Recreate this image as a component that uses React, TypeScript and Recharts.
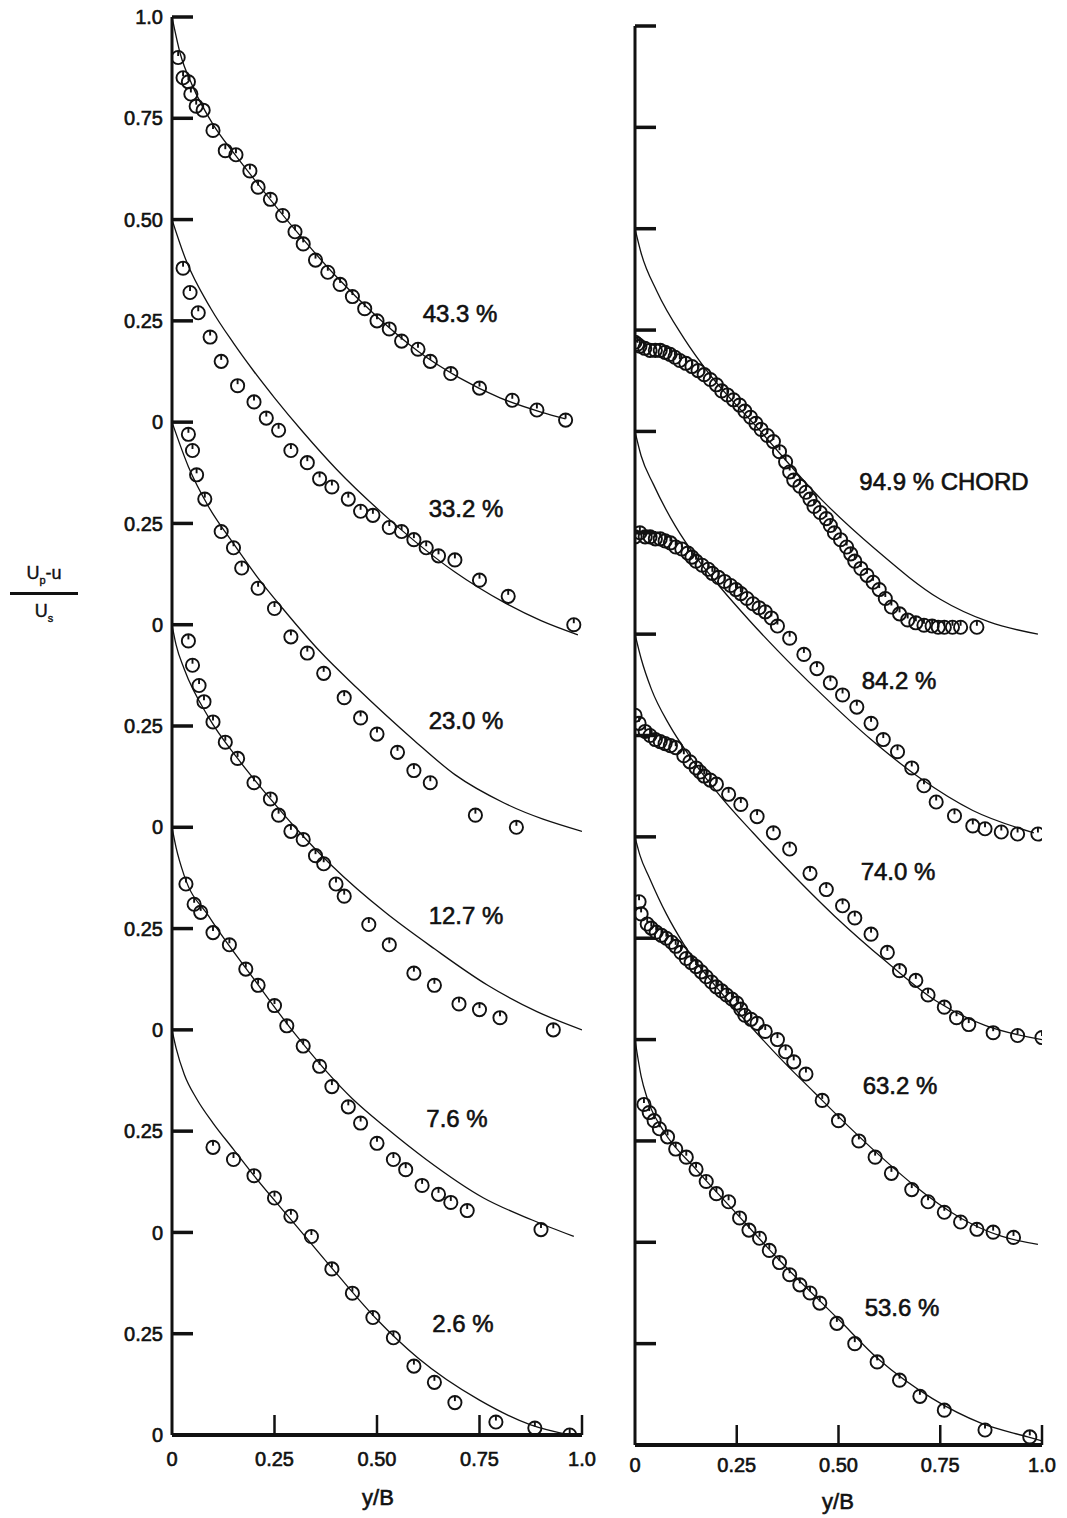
import React from "react";
import { ComposedChart, Line, Scatter, XAxis, YAxis } from "recharts";

const FONT = '"Liberation Sans", Arial, Helvetica, sans-serif';

// axis ticks
const xTicks = [0, 0.25, 0.5, 0.75, 1.0];
const xTickLabels = ["0", "0.25", "0.50", "0.75", "1.0"];
const yTicks = [0, 0.25, 0.5, 0.75, 1.0, 1.25, 1.5, 1.75, 2.0, 2.25, 2.5, 2.75, 3.0, 3.25, 3.5];
const yTickLabels = ["0", "0.25", "0", "0.25", "0", "0.25", "0", "0.25", "0", "0.25", "0", "0.25", "0.50", "0.75", "1.0"];

// left panel: stations (% chord), baseline of each profile on the stacked scale
const leftLabels = ["43.3 %", "33.2 %", "23.0 %", "12.7 %", "7.6 %", "2.6 %"];
const leftOffsets = [2.5, 2.0, 1.5, 1.0, 0.5, 0];

// right panel
const rightLabels = ["94.9 % CHORD", "84.2 %", "74.0 %", "63.2 %", "53.6 %"];
const rightOffsets = [2.0, 1.5, 1.0, 0.5, 0];

type P = [number, number];

// theory curves [y/B, (Up-u)/Us]
const line433: P[] = [[0, 1.0], [0.02, 0.91], [0.05, 0.83], [0.1, 0.735], [0.15, 0.665], [0.2, 0.6], [0.3, 0.475], [0.4, 0.36], [0.5, 0.26], [0.6, 0.175], [0.7, 0.11], [0.8, 0.06], [0.9, 0.025], [0.96, 0.008]];
const line332: P[] = [[0, 1.0], [0.034, 0.9], [0.095, 0.78], [0.15, 0.695], [0.2, 0.625], [0.25, 0.56], [0.32, 0.475], [0.4, 0.385], [0.53, 0.26], [0.69, 0.13], [0.81, 0.055], [0.9, 0.01], [0.99, -0.025]];
const line230: P[] = [[0, 1.0], [0.04, 0.89], [0.09, 0.79], [0.15, 0.7], [0.21, 0.615], [0.27, 0.54], [0.36, 0.435], [0.45, 0.345], [0.59, 0.215], [0.69, 0.13], [0.81, 0.06], [1.0, -0.01]];
const line127: P[] = [[0, 1.0], [0.01, 0.95], [0.03, 0.89], [0.09, 0.77], [0.16, 0.67], [0.24, 0.57], [0.3, 0.5], [0.39, 0.405], [0.52, 0.29], [0.64, 0.2], [0.77, 0.11], [0.89, 0.045], [1.0, 0.0]];
const line76: P[] = [[0, 1.0], [0.01, 0.95], [0.03, 0.88], [0.09, 0.78], [0.2, 0.625], [0.3, 0.49], [0.44, 0.33], [0.52, 0.26], [0.62, 0.18], [0.76, 0.085], [0.88, 0.03], [0.98, -0.01]];
const line26: P[] = [[0, 1.0], [0.01, 0.955], [0.03, 0.89], [0.06, 0.83], [0.1, 0.77], [0.15, 0.705], [0.2, 0.64], [0.3, 0.52], [0.4, 0.4], [0.5, 0.285], [0.6, 0.19], [0.75, 0.086], [0.875, 0.025], [0.97, 0.0]];

const line949: P[] = [[0, 1.0], [0.015, 0.94], [0.054, 0.845], [0.12, 0.73], [0.18, 0.645], [0.3, 0.51], [0.46, 0.33], [0.59, 0.21], [0.75, 0.086], [0.87, 0.03], [0.99, 0.0]];
const line842: P[] = [[0, 1.0], [0.015, 0.94], [0.045, 0.87], [0.1, 0.765], [0.15, 0.69], [0.21, 0.615], [0.28, 0.535], [0.35, 0.46], [0.45, 0.36], [0.58, 0.24], [0.7, 0.145], [0.83, 0.065], [0.98, 0.01]];
const line740: P[] = [[0, 1.0], [0.015, 0.94], [0.04, 0.865], [0.085, 0.775], [0.13, 0.705], [0.21, 0.6], [0.29, 0.51], [0.37, 0.425], [0.49, 0.305], [0.62, 0.19], [0.74, 0.095], [0.86, 0.035], [1.0, 0.0]];
const line632: P[] = [[0, 1.0], [0.012, 0.955], [0.035, 0.9], [0.077, 0.81], [0.12, 0.735], [0.225, 0.6], [0.3, 0.515], [0.37, 0.44], [0.44, 0.37], [0.5, 0.31], [0.6, 0.215], [0.68, 0.145], [0.8, 0.06], [0.9, 0.015], [0.99, -0.005]];
const line536: P[] = [[0, 1.0], [0.015, 0.91], [0.03, 0.855], [0.07, 0.775], [0.15, 0.68], [0.25, 0.57], [0.36, 0.45], [0.5, 0.31], [0.6, 0.21], [0.73, 0.115], [0.85, 0.054], [0.965, 0.02], [1.0, 0.01]];

// measured points
const pts433: P[] = [[0.015, 0.9], [0.027, 0.85], [0.04, 0.84], [0.046, 0.81], [0.059, 0.78], [0.076, 0.77], [0.1, 0.72], [0.13, 0.67], [0.156, 0.66], [0.19, 0.62], [0.21, 0.58], [0.24, 0.55], [0.27, 0.51], [0.3, 0.47], [0.32, 0.44], [0.35, 0.4], [0.38, 0.37], [0.41, 0.34], [0.44, 0.31], [0.47, 0.28], [0.5, 0.25], [0.53, 0.23], [0.56, 0.2], [0.6, 0.18], [0.63, 0.15], [0.68, 0.12], [0.75, 0.084], [0.83, 0.054], [0.89, 0.03], [0.96, 0.005]];
const pts332: P[] = [[0.027, 0.88], [0.044, 0.82], [0.064, 0.77], [0.093, 0.71], [0.12, 0.65], [0.16, 0.59], [0.2, 0.55], [0.23, 0.51], [0.26, 0.48], [0.29, 0.43], [0.33, 0.4], [0.36, 0.36], [0.39, 0.34], [0.43, 0.31], [0.46, 0.28], [0.49, 0.27], [0.53, 0.24], [0.56, 0.23], [0.59, 0.21], [0.62, 0.19], [0.65, 0.17], [0.69, 0.16], [0.75, 0.11], [0.82, 0.07], [0.98, 0.0]];
const pts230: P[] = [[0.04, 0.97], [0.05, 0.93], [0.06, 0.87], [0.08, 0.81], [0.12, 0.73], [0.15, 0.69], [0.17, 0.64], [0.21, 0.59], [0.25, 0.54], [0.29, 0.47], [0.33, 0.43], [0.37, 0.38], [0.42, 0.32], [0.46, 0.27], [0.5, 0.23], [0.55, 0.185], [0.59, 0.14], [0.63, 0.11], [0.74, 0.03], [0.84, 0.0]];
const pts127: P[] = [[0.04, 0.96], [0.05, 0.9], [0.066, 0.85], [0.078, 0.81], [0.1, 0.76], [0.13, 0.71], [0.16, 0.67], [0.2, 0.61], [0.24, 0.57], [0.26, 0.53], [0.29, 0.49], [0.32, 0.47], [0.35, 0.43], [0.37, 0.41], [0.4, 0.36], [0.42, 0.33], [0.48, 0.26], [0.53, 0.21], [0.59, 0.14], [0.64, 0.11], [0.7, 0.064], [0.75, 0.05], [0.8, 0.03], [0.93, 0.0]];
const pts76: P[] = [[0.034, 0.86], [0.054, 0.81], [0.07, 0.79], [0.1, 0.74], [0.14, 0.71], [0.18, 0.65], [0.21, 0.61], [0.25, 0.56], [0.28, 0.51], [0.32, 0.46], [0.36, 0.41], [0.39, 0.36], [0.43, 0.31], [0.46, 0.27], [0.5, 0.22], [0.54, 0.18], [0.57, 0.155], [0.61, 0.116], [0.65, 0.094], [0.68, 0.074], [0.72, 0.054], [0.9, 0.007]];
const pts26: P[] = [[0.1, 0.71], [0.15, 0.68], [0.2, 0.64], [0.25, 0.585], [0.29, 0.54], [0.34, 0.49], [0.39, 0.41], [0.44, 0.35], [0.49, 0.29], [0.54, 0.24], [0.59, 0.17], [0.64, 0.13], [0.69, 0.08], [0.79, 0.032], [0.885, 0.017], [0.97, 0.0]];

const pts949: P[] = [[0.0, 0.72], [0.006, 0.715], [0.012, 0.71], [0.024, 0.705], [0.037, 0.7], [0.05, 0.7], [0.062, 0.7], [0.074, 0.695], [0.086, 0.69], [0.098, 0.683], [0.11, 0.675], [0.125, 0.668], [0.14, 0.66], [0.155, 0.65], [0.17, 0.64], [0.185, 0.628], [0.2, 0.615], [0.213, 0.6], [0.227, 0.59], [0.242, 0.578], [0.257, 0.565], [0.27, 0.55], [0.284, 0.535], [0.297, 0.52], [0.31, 0.505], [0.325, 0.49], [0.34, 0.475], [0.355, 0.45], [0.37, 0.425], [0.38, 0.4], [0.39, 0.38], [0.405, 0.365], [0.42, 0.35], [0.43, 0.333], [0.44, 0.315], [0.455, 0.3], [0.47, 0.285], [0.48, 0.268], [0.49, 0.25], [0.505, 0.233], [0.52, 0.215], [0.53, 0.198], [0.54, 0.18], [0.555, 0.162], [0.57, 0.145], [0.585, 0.128], [0.6, 0.11], [0.615, 0.088], [0.63, 0.067], [0.65, 0.05], [0.67, 0.035], [0.69, 0.028], [0.71, 0.022], [0.73, 0.02], [0.745, 0.017], [0.76, 0.017], [0.78, 0.017], [0.8, 0.017], [0.84, 0.017]];
const pts842: P[] = [[0.0, 0.74], [0.012, 0.75], [0.025, 0.74], [0.037, 0.74], [0.05, 0.735], [0.062, 0.735], [0.074, 0.73], [0.087, 0.725], [0.1, 0.715], [0.115, 0.71], [0.13, 0.7], [0.14, 0.69], [0.15, 0.68], [0.165, 0.67], [0.18, 0.66], [0.19, 0.65], [0.205, 0.64], [0.22, 0.63], [0.235, 0.62], [0.248, 0.61], [0.26, 0.6], [0.275, 0.588], [0.29, 0.575], [0.305, 0.565], [0.32, 0.555], [0.335, 0.54], [0.35, 0.52], [0.38, 0.49], [0.415, 0.45], [0.447, 0.415], [0.48, 0.38], [0.51, 0.35], [0.545, 0.32], [0.58, 0.28], [0.61, 0.24], [0.645, 0.21], [0.68, 0.17], [0.71, 0.126], [0.74, 0.086], [0.785, 0.052], [0.83, 0.027], [0.86, 0.02], [0.9, 0.012], [0.94, 0.007], [0.99, 0.007]];
const pts740: P[] = [[0.0, 0.8], [0.01, 0.78], [0.025, 0.76], [0.037, 0.75], [0.05, 0.74], [0.062, 0.735], [0.074, 0.73], [0.087, 0.725], [0.1, 0.72], [0.12, 0.7], [0.135, 0.685], [0.15, 0.67], [0.16, 0.66], [0.17, 0.65], [0.185, 0.64], [0.2, 0.63], [0.23, 0.605], [0.26, 0.58], [0.3, 0.55], [0.34, 0.51], [0.38, 0.47], [0.43, 0.41], [0.47, 0.37], [0.51, 0.33], [0.54, 0.3], [0.58, 0.26], [0.62, 0.215], [0.65, 0.17], [0.69, 0.146], [0.72, 0.11], [0.76, 0.08], [0.79, 0.054], [0.82, 0.037], [0.88, 0.017], [0.94, 0.01], [1.0, 0.005]];
const pts632: P[] = [[0.01, 0.84], [0.015, 0.81], [0.03, 0.785], [0.04, 0.775], [0.052, 0.765], [0.065, 0.757], [0.077, 0.75], [0.09, 0.74], [0.1, 0.73], [0.113, 0.715], [0.126, 0.7], [0.138, 0.69], [0.15, 0.68], [0.163, 0.667], [0.175, 0.655], [0.188, 0.642], [0.2, 0.63], [0.213, 0.62], [0.225, 0.61], [0.238, 0.6], [0.25, 0.59], [0.26, 0.575], [0.27, 0.56], [0.285, 0.55], [0.3, 0.54], [0.32, 0.52], [0.35, 0.5], [0.37, 0.47], [0.39, 0.445], [0.42, 0.415], [0.46, 0.35], [0.5, 0.3], [0.55, 0.25], [0.59, 0.21], [0.63, 0.17], [0.68, 0.13], [0.72, 0.1], [0.76, 0.074], [0.8, 0.05], [0.84, 0.032], [0.88, 0.025], [0.93, 0.012]];
const pts536: P[] = [[0.022, 0.84], [0.035, 0.82], [0.047, 0.8], [0.06, 0.78], [0.08, 0.76], [0.1, 0.73], [0.126, 0.71], [0.15, 0.68], [0.175, 0.65], [0.2, 0.62], [0.23, 0.6], [0.257, 0.56], [0.28, 0.53], [0.306, 0.51], [0.33, 0.48], [0.355, 0.45], [0.38, 0.42], [0.405, 0.395], [0.43, 0.375], [0.454, 0.35], [0.496, 0.3], [0.54, 0.25], [0.595, 0.205], [0.65, 0.16], [0.7, 0.12], [0.76, 0.086], [0.86, 0.037], [0.97, 0.02]];

const leftLines = [line433, line332, line230, line127, line76, line26];
const leftPts = [pts433, pts332, pts230, pts127, pts76, pts26];
const rightLines = [line949, line842, line740, line632, line536];
const rightPts = [pts949, pts842, pts740, pts632, pts536];

const stack = (pairs: P[], off: number) => pairs.map(([x, v]) => ({ x, y: v + off }));

function Marker(props: any) {
  const { cx, cy } = props;
  if (cx == null || cy == null) return null;
  return (
    <g>
      <circle cx={cx} cy={cy} r={6.6} fill="none" stroke="#111" strokeWidth={1.9} />
      <line x1={cx} y1={cy - 6.6} x2={cx} y2={cy - 1.5} stroke="#111" strokeWidth={1.9} />
    </g>
  );
}

function YTick(props: any) {
  const { x, y, index, showLabel } = props;
  return (
    <g>
      <line x1={x} y1={y} x2={x + 21} y2={y} stroke="#111" strokeWidth={3.5} />
      {showLabel && (
        <text
          x={x - 9}
          y={y}
          dy="0.36em"
          textAnchor="end"
          fontSize={20}
          fill="#111"
          stroke="#111"
          strokeWidth={0.6}
          fontFamily={FONT}
        >
          {yTickLabels[index]}
        </text>
      )}
    </g>
  );
}

function XTick(props: any) {
  const { x, y, index, labelGap } = props;
  return (
    <g>
      {index > 0 && <line x1={x} y1={y} x2={x} y2={y - 20} stroke="#111" strokeWidth={2.5} />}
      <text
        x={x}
        y={y + labelGap}
        dy="0.36em"
        textAnchor="middle"
        fontSize={20}
        fill="#111"
        stroke="#111"
        strokeWidth={0.6}
        fontFamily={FONT}
      >
        {xTickLabels[index]}
      </text>
    </g>
  );
}

function Panel({
  lines,
  pts,
  offsets,
  yAxisWidth,
  top,
  plotW,
  plotH,
  showYLabels,
  labelGap,
}: {
  lines: P[][];
  pts: P[][];
  offsets: number[];
  yAxisWidth: number;
  top: number;
  plotW: number;
  plotH: number;
  showYLabels: boolean;
  labelGap: number;
}) {
  return (
    <ComposedChart
      width={yAxisWidth + plotW + 24}
      height={top + plotH + 75}
      margin={{ top, right: 24, bottom: 0, left: 0 }}
    >
      <XAxis
        type="number"
        dataKey="x"
        domain={[0, 1]}
        ticks={xTicks}
        interval={0}
        allowDataOverflow
        height={75}
        tickSize={0}
        tickMargin={0}
        tickLine={false}
        axisLine={{ stroke: "#111", strokeWidth: 4 }}
        tick={<XTick labelGap={labelGap} />}
      />
      <YAxis
        type="number"
        dataKey="y"
        domain={[0, 3.5]}
        ticks={yTicks}
        interval={0}
        allowDataOverflow
        width={yAxisWidth}
        tickSize={0}
        tickMargin={0}
        tickLine={false}
        axisLine={{ stroke: "#111", strokeWidth: 3 }}
        tick={<YTick showLabel={showYLabels} />}
      />
      {lines.map((l, i) => (
        <Line
          key={"l" + i}
          data={stack(l, offsets[i])}
          dataKey="y"
          type="monotone"
          stroke="#111"
          strokeWidth={1.3}
          dot={false}
          activeDot={false}
          isAnimationActive={false}
        />
      ))}
      {pts.map((p, i) => (
        <Scatter
          key={"s" + i}
          data={stack(p, offsets[i])}
          dataKey="y"
          shape={<Marker />}
          isAnimationActive={false}
        />
      ))}
    </ComposedChart>
  );
}

const textStyle: React.CSSProperties = {
  position: "absolute",
  transform: "translate(-50%, -50%)",
  fontFamily: FONT,
  fontSize: 24,
  lineHeight: 1,
  color: "#111",
  whiteSpace: "nowrap",
  WebkitTextStroke: "0.6px #111",
};

const leftLabelPos = [
  [460, 314],
  [466, 509],
  [466, 721],
  [466, 916],
  [457, 1119],
  [463, 1324],
];
const rightLabelPos = [
  [944, 482],
  [899, 681],
  [898, 872],
  [900, 1086],
  [902, 1308],
];

export default function App() {
  return (
    <div
      style={{
        position: "absolute",
        left: 0,
        top: 0,
        width: 1067,
        height: 1518,
        background: "#fff",
        overflow: "hidden",
      }}
    >
      <div style={{ position: "absolute", left: 0, top: 0 }}>
        <Panel
          lines={leftLines}
          pts={leftPts}
          offsets={leftOffsets}
          yAxisWidth={172}
          top={17}
          plotW={410}
          plotH={1418}
          showYLabels={true}
          labelGap={24}
        />
      </div>
      <div style={{ position: "absolute", left: 560, top: 0 }}>
        <Panel
          lines={rightLines}
          pts={rightPts}
          offsets={rightOffsets}
          yAxisWidth={75}
          top={26}
          plotW={407}
          plotH={1419}
          showYLabels={false}
          labelGap={20}
        />
      </div>

      {leftLabels.map((t, i) => (
        <div key={t} style={{ ...textStyle, left: leftLabelPos[i][0], top: leftLabelPos[i][1] }}>
          {t}
        </div>
      ))}
      {rightLabels.map((t, i) => (
        <div key={t} style={{ ...textStyle, left: rightLabelPos[i][0], top: rightLabelPos[i][1] }}>
          {t}
        </div>
      ))}

      <div style={{ ...textStyle, fontSize: 22, left: 378, top: 1498 }}>y/B</div>
      <div style={{ ...textStyle, fontSize: 22, left: 838, top: 1502 }}>y/B</div>

      {/* ordinate label: (Up - u) / Us */}
      <div
        style={{
          position: "absolute",
          left: 10,
          top: 564,
          width: 68,
          fontFamily: FONT,
          fontSize: 18,
          color: "#111",
          textAlign: "center",
          lineHeight: 1,
          WebkitTextStroke: "0.4px #111",
        }}
      >
        <div style={{ paddingBottom: 6, borderBottom: "3px solid #111" }}>
          U<sub style={{ fontSize: 11 }}>p</sub>-u
        </div>
        <div style={{ paddingTop: 7 }}>
          U<sub style={{ fontSize: 11 }}>s</sub>
        </div>
      </div>
    </div>
  );
}
